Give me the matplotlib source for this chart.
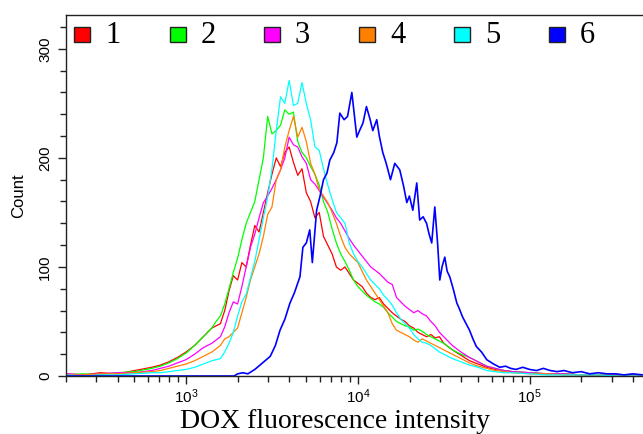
import numpy as np
import matplotlib
matplotlib.use('Agg')
import matplotlib.pyplot as plt
from matplotlib.patches import Rectangle
from matplotlib.ticker import LogLocator, MultipleLocator, NullFormatter

plt.rcParams['font.family'] = ['Liberation Sans', 'DejaVu Sans']

# shared log10 bin positions for samples 1-5
grid = np.concatenate([
    [2.30, 2.40, 2.50, 2.60, 2.70, 2.80, 2.85, 2.90, 2.95, 3.00, 3.05, 3.10],
    np.round(np.arange(3.15, 4.5001, 0.025), 3),
    [4.55, 4.60, 4.65, 4.70, 4.75, 4.80, 4.85, 4.90, 5.00, 5.10, 5.20, 5.30, 5.40, 5.50, 5.65],
])

n1 = [2, 1, 3, 2, 5, 8, 10, 13, 17, 22, 28, 36,
      44, 46, 48, 60, 78, 92, 88, 104, 100, 120, 138, 132, 150, 168, 185, 200, 192, 205, 210, 196,
      184, 190, 168, 160, 145, 150, 128, 120, 112, 100, 97, 100, 94, 88, 85, 82, 76, 72, 70, 72,
      66, 62, 58, 55, 52, 50, 46, 44, 40, 38, 36, 38, 35, 36, 30,
      24, 19, 14, 11, 8, 6, 5, 4, 3, 2, 2, 1, 1, 1, 1]
n2 = [1, 2, 1, 3, 4, 7, 9, 12, 16, 21, 28, 36,
      44, 50, 55, 66, 80, 95, 108, 125, 140, 150, 160, 180, 200, 238, 222, 225, 230, 244, 240, 242,
      215, 205, 200, 192, 185, 175, 160, 150, 135, 122, 112, 105, 97, 88, 82, 78, 74, 71, 68, 66,
      63, 58, 54, 50, 48, 46, 45, 42, 43, 41, 38, 36, 34, 32, 30,
      24, 20, 17, 13, 9, 7, 5, 4, 3, 2, 2, 1, 1, 1, 1]
n3 = [2, 1, 2, 3, 3, 5, 7, 9, 12, 15, 20, 26,
      30, 33, 36, 45, 58, 68, 66, 82, 100, 118, 130, 145, 159, 165, 172, 180, 189, 200, 219, 212,
      210, 201, 195, 180, 176, 170, 164, 158, 152, 145, 140, 133, 126, 120, 115, 110, 105, 100, 97, 94,
      90, 86, 84, 72, 68, 64, 61, 58, 60, 57, 55, 50, 46, 40, 36,
      28, 22, 17, 13, 9, 7, 5, 4, 3, 2, 2, 1, 1, 1, 1]
n4 = [1, 1, 2, 2, 3, 4, 5, 7, 9, 11, 14, 18,
      22, 25, 28, 34, 36, 40, 44, 58, 72, 88, 100, 112, 128, 148, 155, 180, 189, 210, 225, 238,
      219, 228, 215, 195, 185, 171, 165, 159, 150, 140, 128, 118, 112, 108, 104, 96, 88, 82, 76, 70,
      64, 58, 48, 42, 40, 38, 36, 33, 31, 34, 32, 30, 28, 26, 24,
      20, 16, 12, 9, 7, 5, 4, 3, 2, 2, 1, 1, 1, 1, 1]
n5 = [1, 0, 1, 1, 2, 3, 3, 4, 5, 6, 8, 11,
      14, 15, 16, 22, 30, 40, 55, 68, 75, 90, 105, 125, 145, 164, 190, 225, 256, 250, 271, 248,
      250, 269, 250, 235, 210, 207, 190, 175, 162, 150, 145, 140, 122, 112, 105, 100, 94, 88, 84, 80,
      74, 70, 65, 58, 52, 48, 44, 38, 34, 31, 30, 28, 25, 22, 20,
      16, 13, 10, 8, 5, 4, 3, 3, 2, 1, 1, 1, 1, 0, 0]

# sample 6 has its own bins
lx6 = [2.30, 2.80, 3.28, 3.30, 3.33, 3.36, 3.40, 3.43, 3.46, 3.49, 3.52, 3.547, 3.575, 3.605, 3.63,
       3.663, 3.68, 3.70, 3.72, 3.735, 3.76, 3.78, 3.80, 3.82, 3.837, 3.86, 3.878, 3.895, 3.92, 3.94,
       3.965, 3.994, 4.01, 4.03, 4.05, 4.07, 4.087, 4.11, 4.125, 4.145, 4.165, 4.19, 4.215, 4.244,
       4.265, 4.285, 4.30, 4.32, 4.343, 4.36, 4.38, 4.40, 4.415, 4.43, 4.448, 4.465, 4.477, 4.49,
       4.506, 4.52, 4.535, 4.555, 4.576, 4.59, 4.61, 4.63, 4.65, 4.67, 4.69, 4.72, 4.75, 4.79, 4.826,
       4.86, 4.89, 4.92, 4.96, 5.00, 5.04, 5.08, 5.12, 5.16, 5.20, 5.25, 5.30, 5.35, 5.40, 5.45,
       5.50, 5.55, 5.60, 5.66]
n6 = [0, 0, 0, 2, 3, 2, 6, 10, 14, 18, 28, 42, 52, 67, 76,
      91, 118, 122, 134, 104, 152, 165, 180, 186, 198, 205, 214, 241, 235, 238,
      260, 219, 225, 232, 247, 236, 225, 235, 220, 205, 195, 180, 195, 189,
      175, 159, 165, 152, 177, 143, 146, 140, 130, 122, 155, 120, 88, 100,
      109, 96, 91, 80, 67, 62, 54, 48, 42, 34, 27, 22, 15, 11, 8,
      9, 7, 6, 8, 6, 5, 7, 5, 4, 5, 3, 4, 2, 3, 2,
      2, 1, 2, 1]

labels = ['1', '2', '3', '4', '5', '6']
colors = ['#ff0000', '#00ff00', '#ff00ff', '#ff8000', '#00ffff', '#0000ff']

W, H = 643, 434
fig = plt.figure(figsize=(W / 100, H / 100), dpi=100)
ax = fig.add_axes([66 / W, 58 / H, 1 - 66 / W, 361 / H])

for n, c in zip([n1, n2, n3, n4, n5], colors[:5]):
    ax.plot(10 ** grid, n, color=c, lw=0.9)
ax.plot(10 ** np.array(lx6), n6, color=colors[5], lw=1.2)

ax.set_xscale('log')
ax.set_xlim(200, 10 ** 5.66)
ax.set_ylim(0, 331)
ax.xaxis.set_major_locator(LogLocator(base=10, numticks=10))
ax.xaxis.set_minor_locator(LogLocator(base=10, subs=np.arange(2, 10), numticks=20))
ax.xaxis.set_minor_formatter(NullFormatter())
ax.yaxis.set_major_locator(MultipleLocator(100))
ax.yaxis.set_minor_locator(MultipleLocator(20))

ax.spines['right'].set_visible(False)
for s in ['top', 'left', 'bottom']:
    ax.spines[s].set_linewidth(1.0)
    ax.spines[s].set_color('#222222')
ax.tick_params(which='major', length=6, width=1, labelsize=11, color='#222222')
ax.tick_params(which='minor', length=4, width=1, color='#222222')
ax.tick_params(axis='x', pad=2)
ax.tick_params(axis='y', pad=4, labelrotation=90)
for lab in ax.get_yticklabels():
    lab.set_va('center')

# legend squares and numbers
cx = [82, 178, 272, 367, 462, 557]
for x0, c, lab in zip(cx, colors, labels):
    fig.patches.append(Rectangle(((x0 - 8) / W, (H - 42) / H), 16 / W, 15 / H,
                                 transform=fig.transFigure, fc=c, ec='#222222', lw=1.0))
    fig.text((x0 + 23) / W, (H - 43) / H, lab, fontsize=22, family='Liberation Serif',
             ha='left', va='baseline')

fig.text(335 / W, (H - 428) / H, 'DOX fluorescence intensity', fontsize=20,
         family='Liberation Serif', ha='center', va='baseline')
fig.text(19 / W, (H - 196) / H, 'Count', fontsize=12, rotation=90, ha='center', va='center')

fig.savefig('out.png', dpi=100)
